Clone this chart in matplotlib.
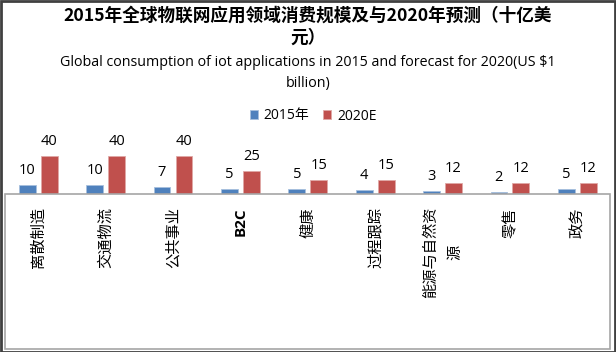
import numpy as np
import matplotlib.pyplot as plt
from matplotlib.patches import Rectangle

plt.rcParams['font.family'] = ['Noto Sans CJK SC', 'DejaVu Sans']

categories = ['离散制造', '交通物流', '公共事业', 'B2C', '健康', '过程跟踪',
              '能源与自然资\n源', '零售', '政务']
values_2015 = [10, 10, 7, 5, 5, 4, 3, 2, 5]
values_2020 = [40, 40, 40, 25, 15, 15, 12, 12, 12]
series_names = ['2015年', '2020E']

title_cn = '2015年全球物联网应用领域消费规模及与2020年预测（十亿美\n元）'
title_en = 'Global consumption of iot applications in 2015 and forecast for 2020(US $1\nbillion)'

W, H = 616, 352
fig = plt.figure(figsize=(W / 100, H / 100), dpi=100)

# plot area: baseline at y=194 px, 0.94 px per unit
ax = fig.add_axes([4.5 / W, (H - 194) / H, 606.5 / W, 94 / H])
x = np.arange(len(categories))
bw = 0.25
off = 0.163
b1 = ax.bar(x - off, values_2015, bw, color='#4F81BD', edgecolor='#A7C0DE', linewidth=0.6,
            label=series_names[0])
b2 = ax.bar(x + off, values_2020, bw, color='#C0504D', edgecolor='#E0A8A6', linewidth=0.6,
            label=series_names[1])
ax.bar_label(b1, padding=5, fontsize=10.5, family=['Open Sans', 'DejaVu Sans'])
ax.bar_label(b2, padding=5, fontsize=10.5, family=['Open Sans', 'DejaVu Sans'])
ax.set_xlim(-0.5, len(categories) - 0.5)
ax.set_ylim(0, 100)
ax.axis('off')

# category labels, rotated, top-aligned just under the baseline
for i, c in enumerate(categories):
    fam = ['Open Sans', 'DejaVu Sans'] if c == 'B2C' else ['Noto Sans CJK SC', 'DejaVu Sans']
    ax.text(i, -13 / 0.94, c, rotation=90, ha='center', va='top', fontsize=11,
            multialignment='center', linespacing=1.6, family=fam, clip_on=False,
            fontweight='bold' if c == 'B2C' else 'normal')

# label box and outer border
fig.add_artist(Rectangle((5 / W, 3 / H), 605 / W, (H - 194 - 3) / H, transform=fig.transFigure,
                         fill=False, edgecolor='#A6A6A6', linewidth=1.2))
fig.add_artist(Rectangle((0.5 / W, 0.5 / H), (W - 1.5) / W, (H - 1.5) / H,
                         transform=fig.transFigure, fill=False, edgecolor='#404040', linewidth=2))

fig.text(0.5, 1 - 27 / H, title_cn, ha='center', va='center', fontsize=12.7,
         fontweight='bold', linespacing=1.3)
fig.text(0.5, 1 - 73 / H, title_en, ha='center', va='center', fontsize=10.3,
         family=['Open Sans', 'DejaVu Sans'], linespacing=1.5)

fig.legend(handles=[b1, b2], labels=series_names, loc='center', ncol=2,
           bbox_to_anchor=(313 / W, 1 - 116 / H), frameon=False,
           handlelength=0.6, handleheight=0.6, handletextpad=0.4, columnspacing=1.0,
           prop={'family': ['Open Sans', 'Noto Sans CJK SC'], 'size': 10})

fig.savefig('out.png', dpi=100)
